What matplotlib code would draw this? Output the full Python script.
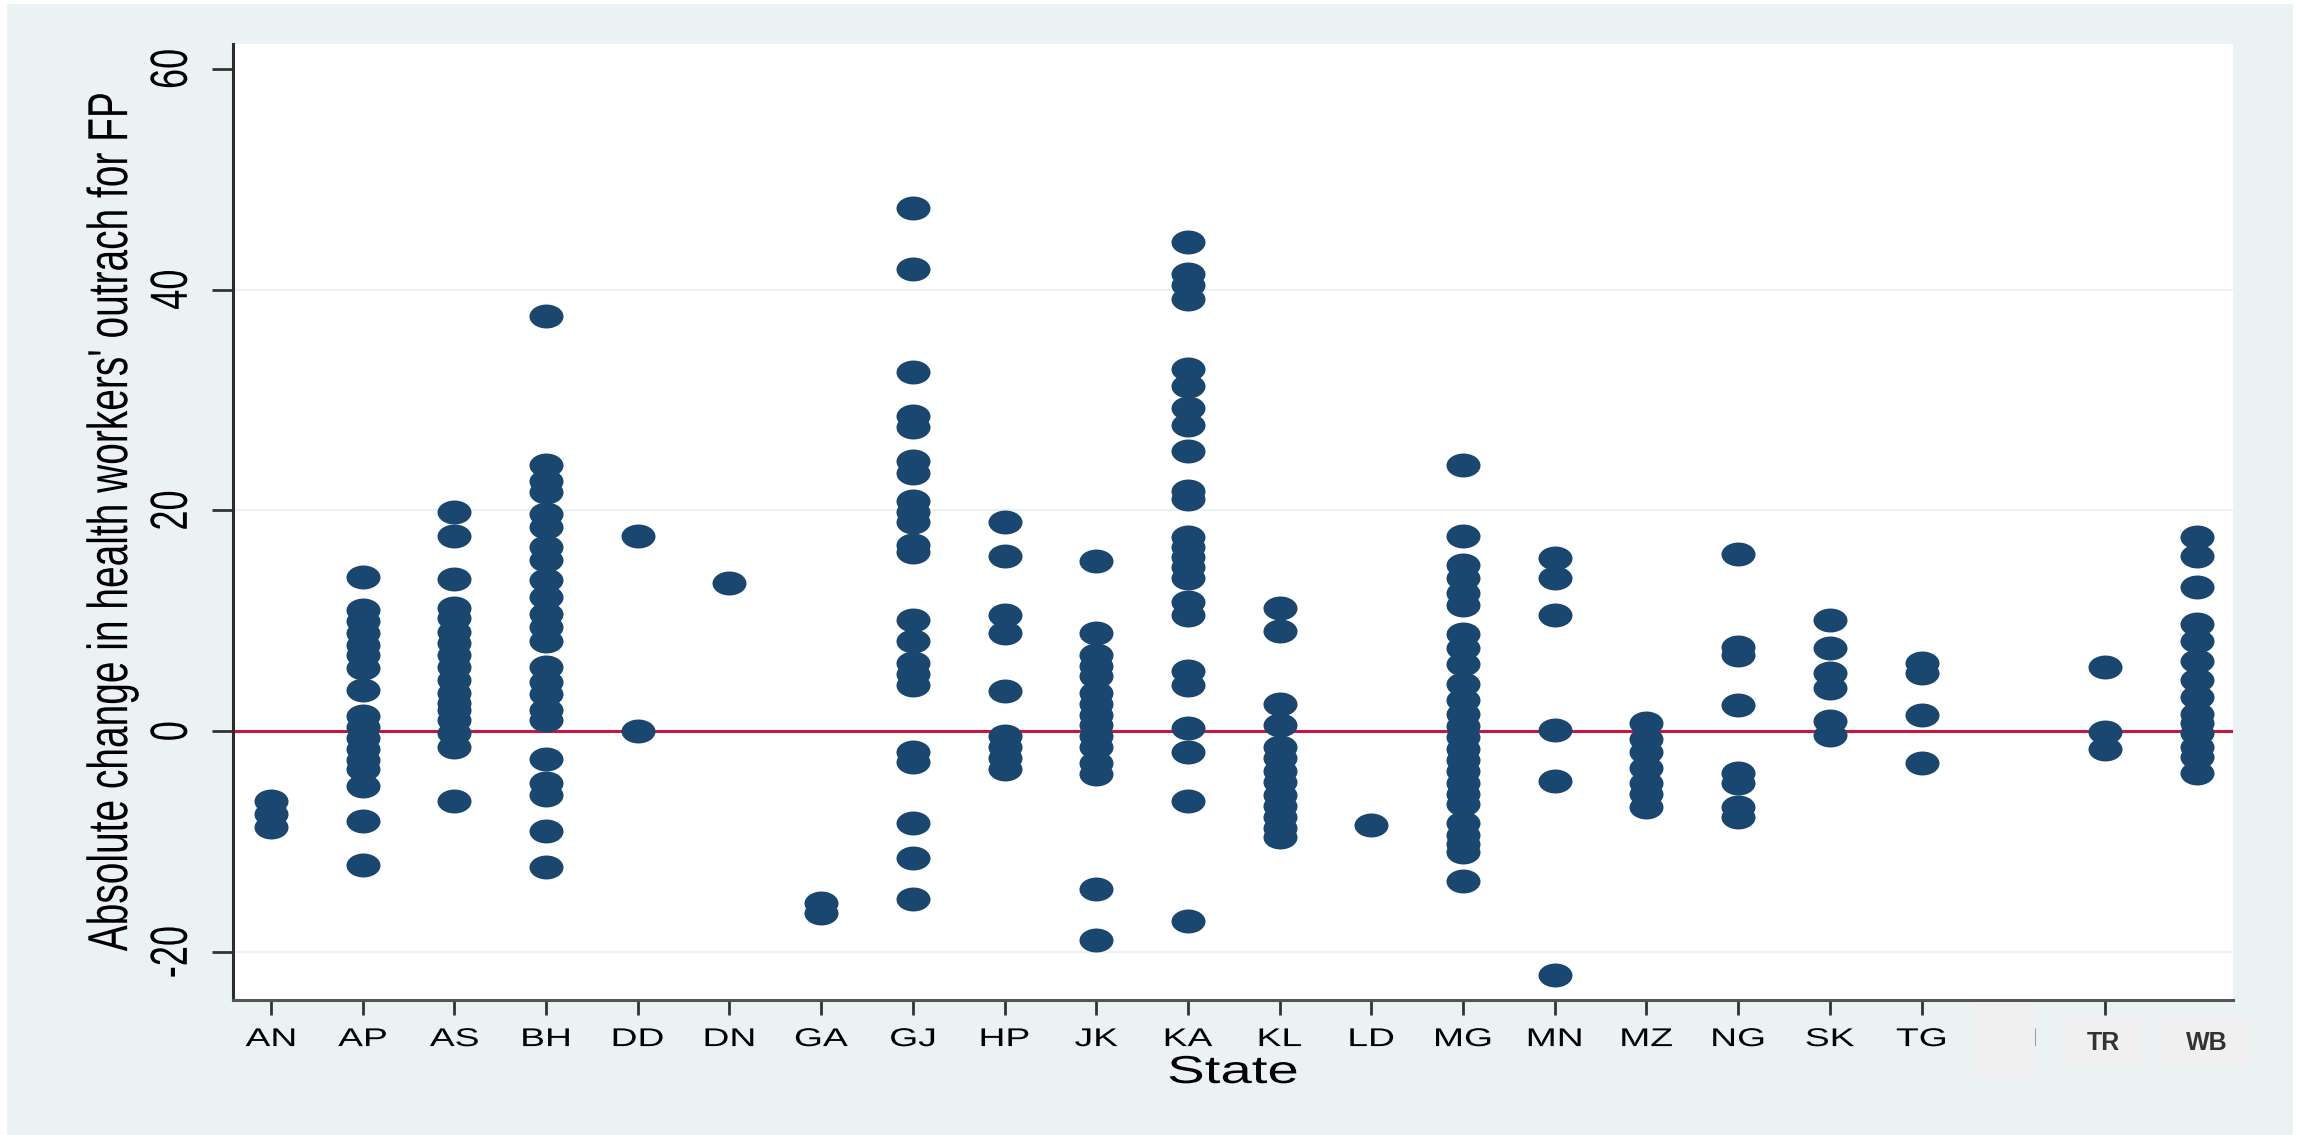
import numpy as np
import matplotlib
matplotlib.use("Agg")
import matplotlib.pyplot as plt
from matplotlib.path import Path
from matplotlib.transforms import Affine2D
from matplotlib.patches import Rectangle
from matplotlib.patheffects import AbstractPathEffect

plt.rcParams['font.family'] = ['Liberation Sans', 'DejaVu Sans']

# state codes along the x axis
states = ['AN', 'AP', 'AS', 'BH', 'DD', 'DN', 'GA', 'GJ', 'HP', 'JK', 'KA',
          'KL', 'LD', 'MG', 'MN', 'MZ', 'NG', 'SK', 'TG', 'TN', 'TR', 'WB']

# absolute change in health workers' outreach for FP, one value per district
an = [-6.3, -7.5, -8.7]
ap = [14.0, 11.0, 10.0, 8.9, 7.8, 6.9, 5.7, 3.7, 1.4, 0.4, -0.6, -1.6, -2.6,
      -3.4, -5.0, -8.1, -12.1]
as_ = [19.9, 17.7, 13.8, 11.2, 10.3, 9.0, 8.0, 6.9, 5.8, 4.6, 3.5, 2.6, 1.9,
       1.0, -0.2, -1.4, -6.3]
bh = [37.6, 24.1, 22.7, 21.7, 19.7, 18.5, 16.7, 15.5, 13.7, 12.2, 10.6, 9.4,
      8.2, 5.8, 4.5, 3.4, 1.9, 1.0, -2.5, -4.7, -5.8, -9.0, -12.3]
dd = [17.7, 0.0]
dn = [13.4]
ga = [-15.6, -16.5]
gj = [47.4, 41.9, 32.5, 28.6, 27.6, 24.5, 23.4, 20.9, 19.9, 19.0, 16.9, 16.2,
      10.1, 8.2, 6.2, 5.2, 4.2, -1.9, -2.8, -8.3, -11.5, -15.2]
hp = [19.0, 15.9, 10.5, 8.9, 3.6, -0.4, -1.4, -2.4, -3.4]
jk = [15.4, 8.9, 6.9, 5.9, 5.0, 3.5, 2.5, 1.5, 0.6, -0.4, -1.4, -2.9, -3.9,
      -14.3, -18.9]
ka = [44.3, 41.4, 40.4, 39.2, 32.8, 31.3, 29.3, 27.7, 25.4, 21.8, 21.0, 17.6,
      16.7, 15.8, 14.9, 13.9, 11.7, 10.5, 5.5, 4.2, 0.3, -1.9, -6.3, -17.2]
kl = [11.2, 9.1, 2.5, 0.6, -1.4, -2.4, -3.6, -4.6, -5.8, -6.8, -7.8, -8.8,
      -9.6]
ld = [-8.5]
mg = [24.1, 17.7, 15.1, 13.9, 12.5, 11.4, 8.8, 7.5, 6.1, 4.3, 2.8, 1.6, 0.5,
      -0.5, -1.6, -2.6, -3.6, -4.7, -5.7, -6.6, -8.3, -9.4, -10.2, -10.9,
      -13.6]
mn = [15.7, 13.9, 10.5, 0.1, -4.5, -22.1]
mz = [0.7, -0.7, -1.9, -3.3, -4.7, -5.7, -6.9]
ng = [16.1, 7.6, 6.9, 2.4, -3.8, -4.7, -6.9, -7.8]
sk = [10.1, 7.5, 5.3, 3.9, 0.9, -0.3]
tg = [6.2, 5.3, 1.5, -2.9]
tn = []
tr = [5.8, -0.1, -1.6]
wb = [17.6, 15.9, 13.1, 9.7, 8.2, 6.4, 4.6, 3.1, 1.6, 0.7, -0.2, -1.4, -2.3,
      -3.8]

values = [an, ap, as_, bh, dd, dn, ga, gj, hp, jk, ka, kl, ld, mg, mn, mz, ng,
          sk, tg, tn, tr, wb]

yticks = [-20, 0, 20, 40, 60]
ygrid = [-20, 20, 40]

navy = '#1a476f'
panel = '#eaf2f3'
W, H = 2297, 1135
STRETCH = 1.45


class Widen(AbstractPathEffect):
    """Draw text paths widened horizontally about their own centre."""

    def __init__(self, sx):
        super().__init__()
        self.sx = sx

    def draw_path(self, renderer, gc, tpath, affine, rgbFace=None):
        ext = tpath.get_extents(affine)
        cx = 0.5 * (ext.x0 + ext.x1)
        affine = affine + Affine2D().translate(-cx, 0).scale(self.sx, 1).translate(cx, 0)
        renderer.draw_path(gc, tpath, affine, rgbFace)


def fig_box(x0, y0, x1, y1):
    # pixel box (top-left origin) -> figure fraction
    return (x0 / W, 1 - y1 / H), (x1 - x0) / W, (y1 - y0) / H


fig = plt.figure(figsize=(W / 100, H / 100), dpi=100, facecolor='white')
xy, w, h = fig_box(7, 4, 2293, 1135)
fig.patches.append(Rectangle(xy, w, h, transform=fig.transFigure,
                             facecolor=panel, edgecolor='none', zorder=-10))

ax = fig.add_axes([233 / W, 1 - 1000 / H, 2000 / W, 956 / H])
ax.set_facecolor('white')

# wide oval marker
dot = Path.unit_circle().transformed(Affine2D().scale(1.42, 1.0))
for i, vals in enumerate(values):
    if len(vals) == 0:
        continue
    ax.plot(np.full(len(vals), i), vals, linestyle='none', marker=dot,
            ms=24.5, mfc=navy, mec=navy, mew=0, zorder=3)

for g in ygrid:
    ax.axhline(g, color=panel, lw=1.6, zorder=1)
ax.axhline(0, color='#c8173f', lw=2.2, zorder=2)

ax.set_xlim(-0.414, 21.396)
ax.set_ylim(-24.35, 62.26)

for s in ['top', 'right']:
    ax.spines[s].set_visible(False)
ax.spines['left'].set_color('#2b2b2b')
ax.spines['left'].set_linewidth(2.2)
ax.spines['bottom'].set_color('#555555')
ax.spines['bottom'].set_linewidth(2.2)

ax.set_yticks(yticks)
ax.set_yticklabels([str(t) for t in yticks])
ax.tick_params(axis='y', length=15, width=2, color='#333333', labelsize=26,
               pad=16.5, labelrotation=90)
for lbl in ax.get_yticklabels():
    lbl.set_va('center')

ax.set_xticks(range(len(states)))
ax.set_xticklabels(states[:20] + ['', ''])
ax.tick_params(axis='x', length=11, width=2, color='#333333', labelsize=18.5,
               pad=8.5)
ax.xaxis.get_major_ticks()[21].tick1line.set_visible(False)

ax.set_ylabel("Absolute change in health workers' outrach for FP",
              fontsize=28)
ax.yaxis.set_label_coords(-0.0512, 0.5)
ax.set_xlabel('State', fontsize=28)
ax.xaxis.set_label_coords(0.5, -0.0575)

for t in ax.get_xticklabels() + ax.get_yticklabels() + [ax.xaxis.label, ax.yaxis.label]:
    t.set_path_effects([Widen(STRETCH)])

# grey patches over the last tick labels
xy, w, h = fig_box(1974, 1002, 2035, 1080)
fig.patches.append(Rectangle(xy, w, h, transform=fig.transFigure,
                             facecolor='#f0f0f0', edgecolor='none', zorder=5))
for name, (x0, x1) in zip(states[20:], [(2065, 2141), (2162, 2252)]):
    xy, w, h = fig_box(x0, 1017, x1, 1068)
    fig.patches.append(Rectangle(xy, w, h, transform=fig.transFigure,
                                 facecolor='#f0f0f0', edgecolor='none',
                                 zorder=5))
    fig.text((x0 + x1) / 2 / W, 1 - 1043 / H, name, ha='center',
             va='center', fontsize=18, fontweight='bold', color='#333333',
             zorder=6)

fig.savefig('out.png', dpi=100, facecolor=fig.get_facecolor())
